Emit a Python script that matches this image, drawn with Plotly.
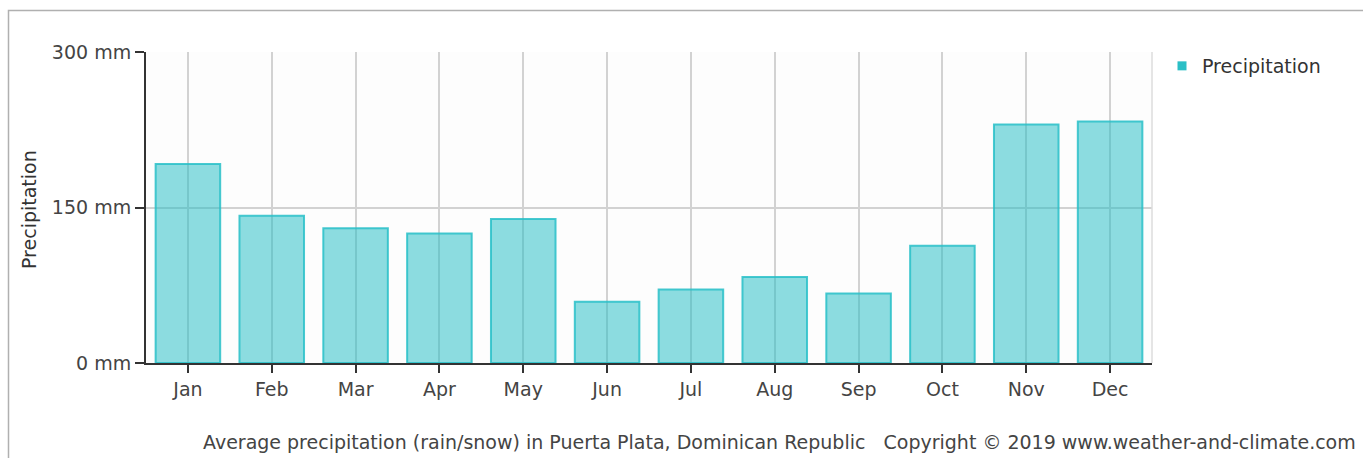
import plotly.graph_objects as go

months = ["Jan", "Feb", "Mar", "Apr", "May", "Jun", "Jul", "Aug", "Sep", "Oct", "Nov", "Dec"]
precip_mm = [192, 142, 130, 125, 139, 59, 71, 83, 67, 113, 230, 233]
y_ticks = [0, 150, 300]
y_tick_labels = ["0 mm", "150 mm", "300 mm"]

W, H = 1363, 458
L, R, T, B = 146, 211, 52, 95
pw, ph = W - L - R, H - T - B

def px(x):
    return (x - L) / pw

def py(y):
    return (H - B - y) / ph

FONT = "DejaVu Sans"
FS = 19

fig = go.Figure()
fig.add_trace(go.Bar(
    x=months, y=precip_mm, name="Precipitation",
    marker=dict(color="rgba(28,188,196,0.5)", line=dict(color="rgba(40,192,200,0.85)", width=2)),
    width=0.77, showlegend=False,
))
# legend entry (small square marker like the original)
fig.add_trace(go.Scatter(
    x=[None], y=[None], mode="markers", name="Precipitation",
    marker=dict(symbol="square", size=9, color="#2bbfc6"),
    showlegend=True,
))

fig.update_layout(
    width=W, height=H,
    margin=dict(l=L, r=R, t=T, b=B),
    paper_bgcolor="white", plot_bgcolor="#fdfdfd",
    font=dict(family=FONT, size=FS, color="#444"),
    xaxis=dict(
        showgrid=True, gridcolor="#d2d2d2", gridwidth=1.5,
        showline=True, linecolor="#333", linewidth=2,
        ticks="outside", ticklen=8, tickwidth=2, tickcolor="#333",
        tickfont=dict(size=FS, color="#444"),
    ),
    yaxis=dict(
        range=[0, 300], tickvals=y_ticks, ticktext=y_tick_labels,
        showgrid=True, gridcolor="#d2d2d2", gridwidth=1.5,
        showline=True, linecolor="#333", linewidth=2,
        ticks="outside", ticklen=9, tickwidth=2, tickcolor="#333",
        tickfont=dict(size=FS, color="#444"), zeroline=False,
    ),
    legend=dict(x=px(1162), y=py(66), xanchor="left", yanchor="middle",
                font=dict(size=FS, color="#333"), bgcolor="rgba(0,0,0,0)"),
    shapes=[
        dict(type="rect", xref="paper", yref="paper",
             x0=px(8.5), x1=px(1380), y0=py(10.5), y1=py(470),
             line=dict(color="#b0b0b0", width=1.5), fillcolor="rgba(0,0,0,0)", layer="below"),
        dict(type="line", xref="paper", yref="paper", x0=1, x1=1, y0=0, y1=1,
             line=dict(color="#dcdcdc", width=1.5)),
    ],
    annotations=[
        dict(text="Precipitation", xref="paper", yref="paper", x=px(29), y=py(210),
             textangle=-90, showarrow=False, xanchor="center", yanchor="middle",
             font=dict(size=FS, color="#333")),
        dict(text="Average precipitation (rain/snow) in Puerta Plata, Dominican Republic   Copyright © 2019 www.weather-and-climate.com",
             xref="paper", yref="paper", x=px(1358), y=py(442), xanchor="right", yanchor="middle",
             showarrow=False, font=dict(size=FS, color="#444")),
    ],
)

fig.write_html("out.html")
